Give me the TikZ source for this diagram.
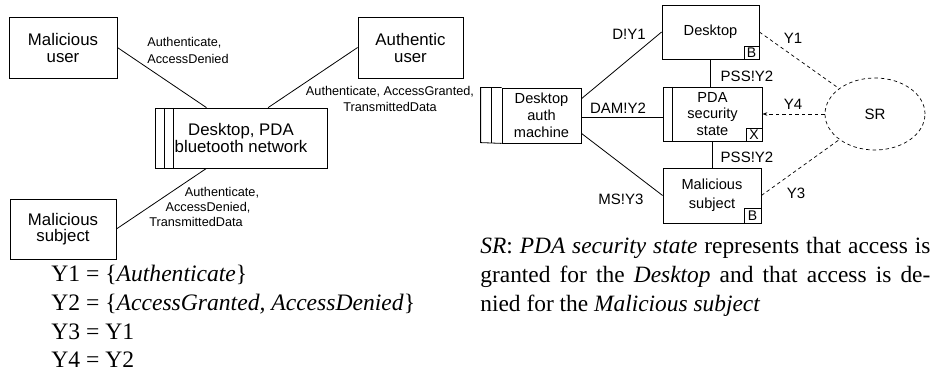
\documentclass[tikz,border=0pt]{standalone}
\usepackage{fontspec}
\setmainfont{Liberation Serif}
\setsansfont{Liberation Sans}
\usetikzlibrary{shapes.geometric,arrows.meta,calc}

\begin{document}
\begin{tikzpicture}[x=1pt,y=-1pt,
  line width=0.8pt,
  box/.style={draw, rectangle, inner sep=0pt, align=center,
    font=\sffamily\fontsize{16.8}{17}\selectfont},
  rbox/.style={draw, rectangle, inner sep=0pt, align=center,
    font=\sffamily\fontsize{14.6}{16.8}\selectfont},
  tag/.style={draw, rectangle, inner sep=0pt, anchor=south east,
    font=\sffamily\fontsize{14}{14}\selectfont},
  msg/.style={inner sep=0pt, font=\sffamily\fontsize{12.7}{16.5}\selectfont},
  chan/.style={inner sep=0pt, font=\sffamily\fontsize{15}{15}\selectfont},
  eqn/.style={inner sep=0pt, anchor=base west, font=\fontsize{23.6}{28}\selectfont},
  prose/.style={inner sep=0pt, anchor=base west, font=\fontsize{23.4}{28}\selectfont},
  req/.style={line width=0.7pt, dash pattern=on 3.5pt off 3pt},
]
\useasboundingbox (0,0) rectangle (930,377);

% ---------- context diagram ----------
\node[box, minimum width=108, minimum height=61] (mu) at (63,47.5) {Malicious\\user};
\node[box, minimum width=105, minimum height=61] (au) at (410.5,47.5) {Authentic\\user};
\node[box, minimum width=172, minimum height=60] (net) at (241,138) {Desktop, PDA\\bluetooth network};
\draw (164,108) -- (164,168) (173,108) -- (173,168);
\node[box, minimum width=106, minimum height=60,
      font=\sffamily\fontsize{16.8}{16}\selectfont] (ms) at (63,229) {Malicious\\subject};

\draw (mu.east) -- ($(net.north west)!0.3!(net.north east)$);
\draw (au.west) -- ($(net.north west)!0.657!(net.north east)$);
\draw ($(net.south west)!0.3!(net.south east)$) -- (ms.east);

\node[msg, anchor=west, align=left] (l1) at (147,50.5) {Authenticate,\\AccessDenied};
\node[msg, align=center] (l2) at (390,99) {Authenticate, AccessGranted,\\TransmittedData};
\node[msg] (l3a) at (222,193) {Authenticate,};
\node[msg] (l3b) at (208,208) {AccessDenied,};
\node[msg] (l3c) at (196,222) {TransmittedData};

\node[eqn] (y1) at (51,281) {Y1 = \{\textit{Authenticate}\}};
\node[eqn] (y2) at (51,310) {Y2 = \{\textit{AccessGranted, AccessDenied}\}};
\node[eqn] (y3) at (51,339) {Y3 = Y1};
\node[eqn] (y4) at (51,367) {Y4 = Y2};

% ---------- problem diagram ----------
\node[rbox, minimum width=79, minimum height=55] (dam) at (541.5,115.5) {Desktop\\auth\\machine};
\draw (dam.north west) -- ++(-21,0) -- ++(0,55) -- (dam.south west);
\draw (491,88) -- (491,143);

\node[rbox, minimum width=97, minimum height=54] (desk) at (710.5,32) {Desktop};
\node[tag, minimum width=15, minimum height=12.5] (deskb) at (desk.south east) {B};

\node[rbox, minimum width=99, minimum height=54] (pda) at (712.5,114) {PDA\\security\\state};
\draw (672,87) -- (672,141);
\node[tag, minimum width=16, minimum height=12.5] (pdax) at (pda.south east) {X};

\node[rbox, minimum width=98, minimum height=55,
      font=\sffamily\fontsize{14.6}{19}\selectfont] (msr) at (712,195.5) {Malicious\\subject};
\node[tag, minimum width=17, minimum height=15] (msrb) at (msr.south east) {B};

\node[ellipse, draw, req, minimum width=100, minimum height=72, inner sep=0pt,
      font=\sffamily\fontsize{15}{15}\selectfont] (sr) at (875,114) {SR};

\draw ($(dam.north east)!0.2!(dam.south east)$) -- (desk.west);
\draw (dam.east |- 0,117) -- (pda.west |- 0,117);
\draw ($(dam.north east)!0.82!(dam.south east)$) -- (msr.west);
\draw (desk.south) -- (desk.south |- pda.north);
\draw (msr.north |- pda.south) -- (msr.north);

\draw[req] (desk.east) -- (sr);
\draw[req, -{Stealth[length=5pt,width=3.5pt]}] (sr) -- (pda.east);
\draw[req] (msr.east) -- (sr);

\node[chan] (c1) at (629,34) {D!Y1};
\node[chan] (c2) at (618,108) {DAM!Y2};
\node[chan] (c3) at (621,199) {MS!Y3};
\node[chan] (c4) at (747,76) {PSS!Y2};
\node[chan] (c5) at (747,157) {PSS!Y2};
\node[chan] (r1) at (793,38) {Y1};
\node[chan] (r4) at (793,104) {Y4};
\node[chan] (r3) at (796,193) {Y3};

\node[prose] (p1) at (480,254) {\makebox[450pt][s]{\textit{SR}: \textit{PDA security state} represents that access is}};
\node[prose] (p2) at (480,282.5) {\makebox[450pt][s]{granted for the \textit{Desktop} and that access is de-}};
\node[prose] (p3) at (480,311) {nied for the \textit{Malicious subject}};
\end{tikzpicture}
\end{document}
